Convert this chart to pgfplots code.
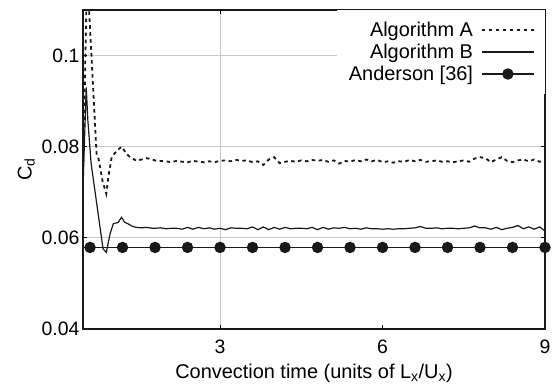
\documentclass[border=0pt]{standalone}
\usepackage{fontspec}
\setmainfont{Liberation Sans}
\usepackage{pgfplots}
\pgfplotsset{compat=1.18}
\pgfplotsset{andlegend/.style={legend image code/.code={\draw[##1, mark indices={2}] plot coordinates {(0bp,0bp) (26bp,0bp) (52bp,0bp)};}}}
\begin{document}
\begin{tikzpicture}
\useasboundingbox (-83bp,-56bp) rectangle (477bp,329bp);
\begin{axis}[
  at={(0,0)}, anchor=south west,
  width=462bp, height=319bp, scale only axis,
  xmin=0.47, xmax=9, ymin=0.04, ymax=0.11,
  xtick={3,6,9}, xticklabels={3,6,9},
  ytick={0.04,0.06,0.08,0.1}, yticklabels={0.04,0.06,0.08,0.1},
  ymajorgrids, grid style={line width=0.8bp, color=black!22},
  extra x ticks={3}, extra x tick labels={}, extra x tick style={grid=major},
  tick align=inside, major tick length=4bp, tick style={line width=0.8bp, black},
  axis line style={line width=1.3bp, black!90},
  tick label style={font=\fontsize{19.5}{21}\selectfont},
  xticklabel style={yshift=-7bp},
  /pgf/number format/assume math mode=true,
  xlabel={Convection time (units of L\textsubscript{x}/U\textsubscript{x})},
  xlabel style={yshift=-4bp},
  ylabel={C\textsubscript{d}},
  label style={font=\fontsize{20}{23}\selectfont},
  legend plot pos=right,
  legend cell align=right,
  legend style={at={(1,1)}, anchor=north east, draw=none, fill=white,
    font=\fontsize{20}{22}\selectfont, row sep=2bp, inner xsep=10bp, inner ysep=10bp,
    /tikz/column 1/.style={column sep=6bp}},
  legend image code/.code={\draw[mark repeat=2,mark phase=2,#1] plot coordinates {(0bp,0bp) (26bp,0bp) (52bp,0bp)};},
]
\addplot[black!90, line width=1.8bp, dash pattern=on 3.5bp off 3.5bp] coordinates {
(0.47,0.072) (0.545,0.1185) (0.72,0.0785) (0.76,0.0772) (0.83,0.0725) (0.90,0.0697)
(0.937,0.0733) (1.0,0.0777) (1.092,0.0791) (1.184,0.0800) (1.277,0.0784) (1.338,0.0777)
(1.461,0.0769) (1.646,0.0775) (1.83,0.0769)
(2.0,0.0768) (2.1,0.0766) (2.2,0.0769) (2.3,0.0767) (2.4,0.0766) (2.5,0.0769) (2.6,0.0767)
(2.7,0.0766) (2.8,0.0768) (2.9,0.0766) (3.0,0.0769) (3.1,0.0770) (3.2,0.0768) (3.3,0.0771)
(3.4,0.0769) (3.5,0.0770) (3.6,0.0766) (3.7,0.0768) (3.8,0.0760) (3.9,0.0772) (4.0,0.0777)
(4.1,0.0764) (4.2,0.0767) (4.3,0.0769) (4.4,0.0767) (4.5,0.0770) (4.6,0.0768) (4.7,0.0771)
(4.8,0.0769) (4.9,0.0771) (5.0,0.0767) (5.1,0.0770) (5.2,0.0763) (5.3,0.0769) (5.4,0.0767)
(5.5,0.0771) (5.6,0.0768) (5.7,0.0772) (5.8,0.0768) (5.9,0.0771) (6.0,0.0766) (6.1,0.0768)
(6.2,0.0765) (6.3,0.0768) (6.4,0.0767) (6.5,0.0771) (6.6,0.0768) (6.7,0.0771) (6.8,0.0767)
(6.9,0.0768) (7.0,0.0770) (7.1,0.0767) (7.2,0.0768) (7.3,0.0766) (7.4,0.0768) (7.5,0.0770)
(7.6,0.0767) (7.7,0.0774) (7.8,0.0777) (7.9,0.0775) (8.0,0.0766) (8.1,0.0772) (8.2,0.0777)
(8.3,0.0769) (8.4,0.0766) (8.5,0.0770) (8.6,0.0772) (8.7,0.0768) (8.8,0.0772) (8.9,0.0767)
(9.0,0.0770)
};
\addlegendentry{Algorithm A}
\addplot[black!90, line width=1.2bp] coordinates {
(0.47,0.0715) (0.53,0.0930) (0.56,0.0857) (0.62,0.0763) (0.84,0.0576) (0.90,0.0568)
(0.97,0.0609) (1.03,0.0631) (1.12,0.0634) (1.18,0.0645) (1.24,0.0634) (1.30,0.0631)
(1.37,0.0626) (1.45,0.0623) (1.55,0.0622) (1.65,0.0623) (1.75,0.0621)
(1.8,0.0621) (1.9,0.0622) (2.0,0.0620) (2.1,0.0621) (2.2,0.0621) (2.3,0.0619) (2.4,0.0623)
(2.5,0.0619) (2.6,0.0623) (2.7,0.0620) (2.8,0.0622) (2.9,0.0619) (3.0,0.0621) (3.1,0.0618)
(3.2,0.0622) (3.3,0.0621) (3.4,0.0621) (3.5,0.0620) (3.6,0.0624) (3.7,0.0618) (3.8,0.0624)
(3.9,0.0618) (4.0,0.0623) (4.1,0.0619) (4.2,0.0623) (4.3,0.0620) (4.4,0.0621) (4.5,0.0621)
(4.6,0.0620) (4.7,0.0623) (4.8,0.0618) (4.9,0.0623) (5.0,0.0619) (5.1,0.0622) (5.2,0.0621)
(5.3,0.0623) (5.4,0.0620) (5.5,0.0621) (5.6,0.0619) (5.7,0.0622) (5.8,0.0620) (5.9,0.0620)
(6.0,0.0619) (6.1,0.0620) (6.2,0.0619) (6.3,0.0620) (6.4,0.0620) (6.5,0.0621) (6.6,0.0622)
(6.7,0.0625) (6.8,0.0621) (6.9,0.0621) (7.0,0.0622) (7.1,0.0620) (7.2,0.0621) (7.3,0.0621)
(7.4,0.0620) (7.5,0.0621) (7.6,0.0622) (7.7,0.0626) (7.8,0.0622) (7.9,0.0622) (8.0,0.0619)
(8.1,0.0623) (8.2,0.0618) (8.3,0.0621) (8.4,0.0623) (8.5,0.0627) (8.6,0.0620) (8.7,0.0624)
(8.8,0.0619) (8.9,0.0624) (9.0,0.0615)
};
\addlegendentry{Algorithm B}
\addplot[black!90, line width=1.4bp, mark=*, mark size=5bp, mark options={solid, fill=black!90},
  mark indices={2,3,4,5,6,7,8,9,10,11,12,13,14,15,16}, andlegend] coordinates {
(0.47,0.0579) (0.6,0.0579) (1.2,0.0579) (1.8,0.0579) (2.4,0.0579) (3.0,0.0579) (3.6,0.0579)
(4.2,0.0579) (4.8,0.0579) (5.4,0.0579) (6.0,0.0579) (6.6,0.0579) (7.2,0.0579) (7.8,0.0579)
(8.4,0.0579) (9.0,0.0579)
};
\addlegendentry{Anderson [36]}
\end{axis}
\end{tikzpicture}
\end{document}
